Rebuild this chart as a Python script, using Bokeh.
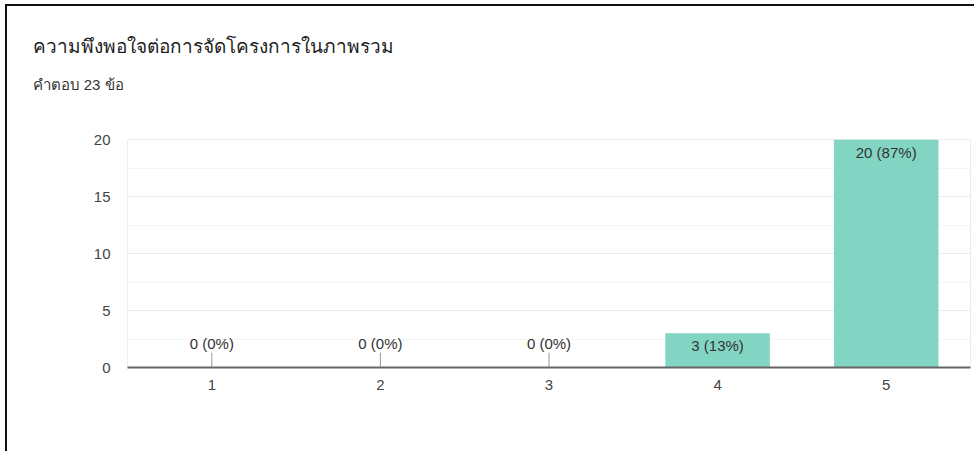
from bokeh.plotting import figure
from bokeh.models import ColumnDataSource, Title, FixedTicker
from bokeh.embed import file_html
from bokeh.resources import INLINE
from bokeh.core.properties import value

# ---- data ----
title_text = "ความพึงพอใจต่อการจัดโครงการในภาพรวม"
subtitle_text = "คำตอบ 23 ข้อ"
categories = ["1", "2", "3", "4", "5"]
counts = [0, 0, 0, 3, 20]
y_ticks = [0, 5, 10, 15, 20]

total = sum(counts)
pcts = [round(c / total * 100) for c in counts]
labels = [f"{c} ({p}%)" for c, p in zip(counts, pcts)]

FONT = "'Liberation Sans', Arial, sans-serif"

p = figure(
    x_range=categories, y_range=(0, 20),
    width=969, height=447,
    output_backend="svg", toolbar_location=None,
    min_border=0, title=title_text,
)
p.styles = {"border-left": "2px solid #111", "border-top": "2px solid #111",
            "margin-left": "5px", "margin-top": "4px"}
p.min_border_left = 120
p.min_border_top = 133
p.min_border_bottom = 86
p.min_border_right = 6
p.background_fill_color = "white"
p.border_fill_color = "white"
p.outline_line_color = "#ececec"
p.outline_line_width = 1

# main title (outermost), subtitle, and an empty spacer next to the frame
p.title.text_font = FONT
p.title.text_font_size = "19px"
p.title.text_font_style = "normal"
p.title.text_color = "#222222"
p.title.align = "left"
p.title.offset = -95
p.title.standoff = 20
p.add_layout(Title(text=" ", text_font=FONT, text_font_size="12px",
                   align="left", standoff=23), "above")
p.add_layout(Title(text=subtitle_text, text_font=FONT, text_font_size="15px",
                   text_font_style="normal", text_color="#333333",
                   align="left", offset=-95, standoff=15), "above")

bar_src = ColumnDataSource(dict(x=categories, top=counts, label=labels))
p.vbar(x="x", top="top", width=0.62, source=bar_src,
       fill_color="#83d5c3", line_color=None)

# labels inside top of non-zero bars
nz = [i for i, c in enumerate(counts) if c > 0]
z = [i for i, c in enumerate(counts) if c == 0]
nz_src = ColumnDataSource(dict(x=[categories[i] for i in nz], y=[counts[i] for i in nz],
                               label=[labels[i] for i in nz]))
p.text(x="x", y="y", text="label", source=nz_src, text_align="center",
       text_baseline="top", y_offset=4, text_font=value(FONT),
       text_font_size="15px", text_color="#333333")

# zero-value annotations with stems
z_src = ColumnDataSource(dict(x=[categories[i] for i in z], y=[counts[i] for i in z],
                              y1=[counts[i] + 1.3 for i in z],
                              label=[labels[i] for i in z]))
p.segment(x0="x", y0="y", x1="x", y1="y1", source=z_src,
          line_color="#999999", line_width=1)
p.text(x="x", y="y", text="label", source=z_src, text_align="center",
       text_baseline="bottom", y_offset=-16, text_font=value(FONT),
       text_font_size="15px", text_color="#333333")

# grids
p.xgrid.grid_line_color = None
p.ygrid.grid_line_color = "#ebebeb"
p.ygrid.grid_line_width = 1
p.ygrid.minor_grid_line_color = "#f4f4f4"
p.yaxis.ticker = FixedTicker(ticks=y_ticks, minor_ticks=[2.5, 7.5, 12.5, 17.5])

# axes
p.yaxis.axis_line_color = None
p.yaxis.major_tick_line_color = None
p.yaxis.minor_tick_line_color = None
p.yaxis.major_tick_out = 0
p.yaxis.major_label_standoff = 13
p.yaxis.major_label_text_font = FONT
p.yaxis.major_label_text_font_size = "15px"
p.yaxis.major_label_text_color = "#444444"

p.xaxis.axis_line_color = "#666666"
p.xaxis.axis_line_width = 2
p.xaxis.major_tick_line_color = None
p.xaxis.minor_tick_line_color = None
p.xaxis.major_tick_out = 0
p.xaxis.major_label_standoff = 12
p.xaxis.major_label_text_font = FONT
p.xaxis.major_label_text_font_size = "15px"
p.xaxis.major_label_text_color = "#444444"

open("out.html", "w").write(file_html(p, INLINE))
